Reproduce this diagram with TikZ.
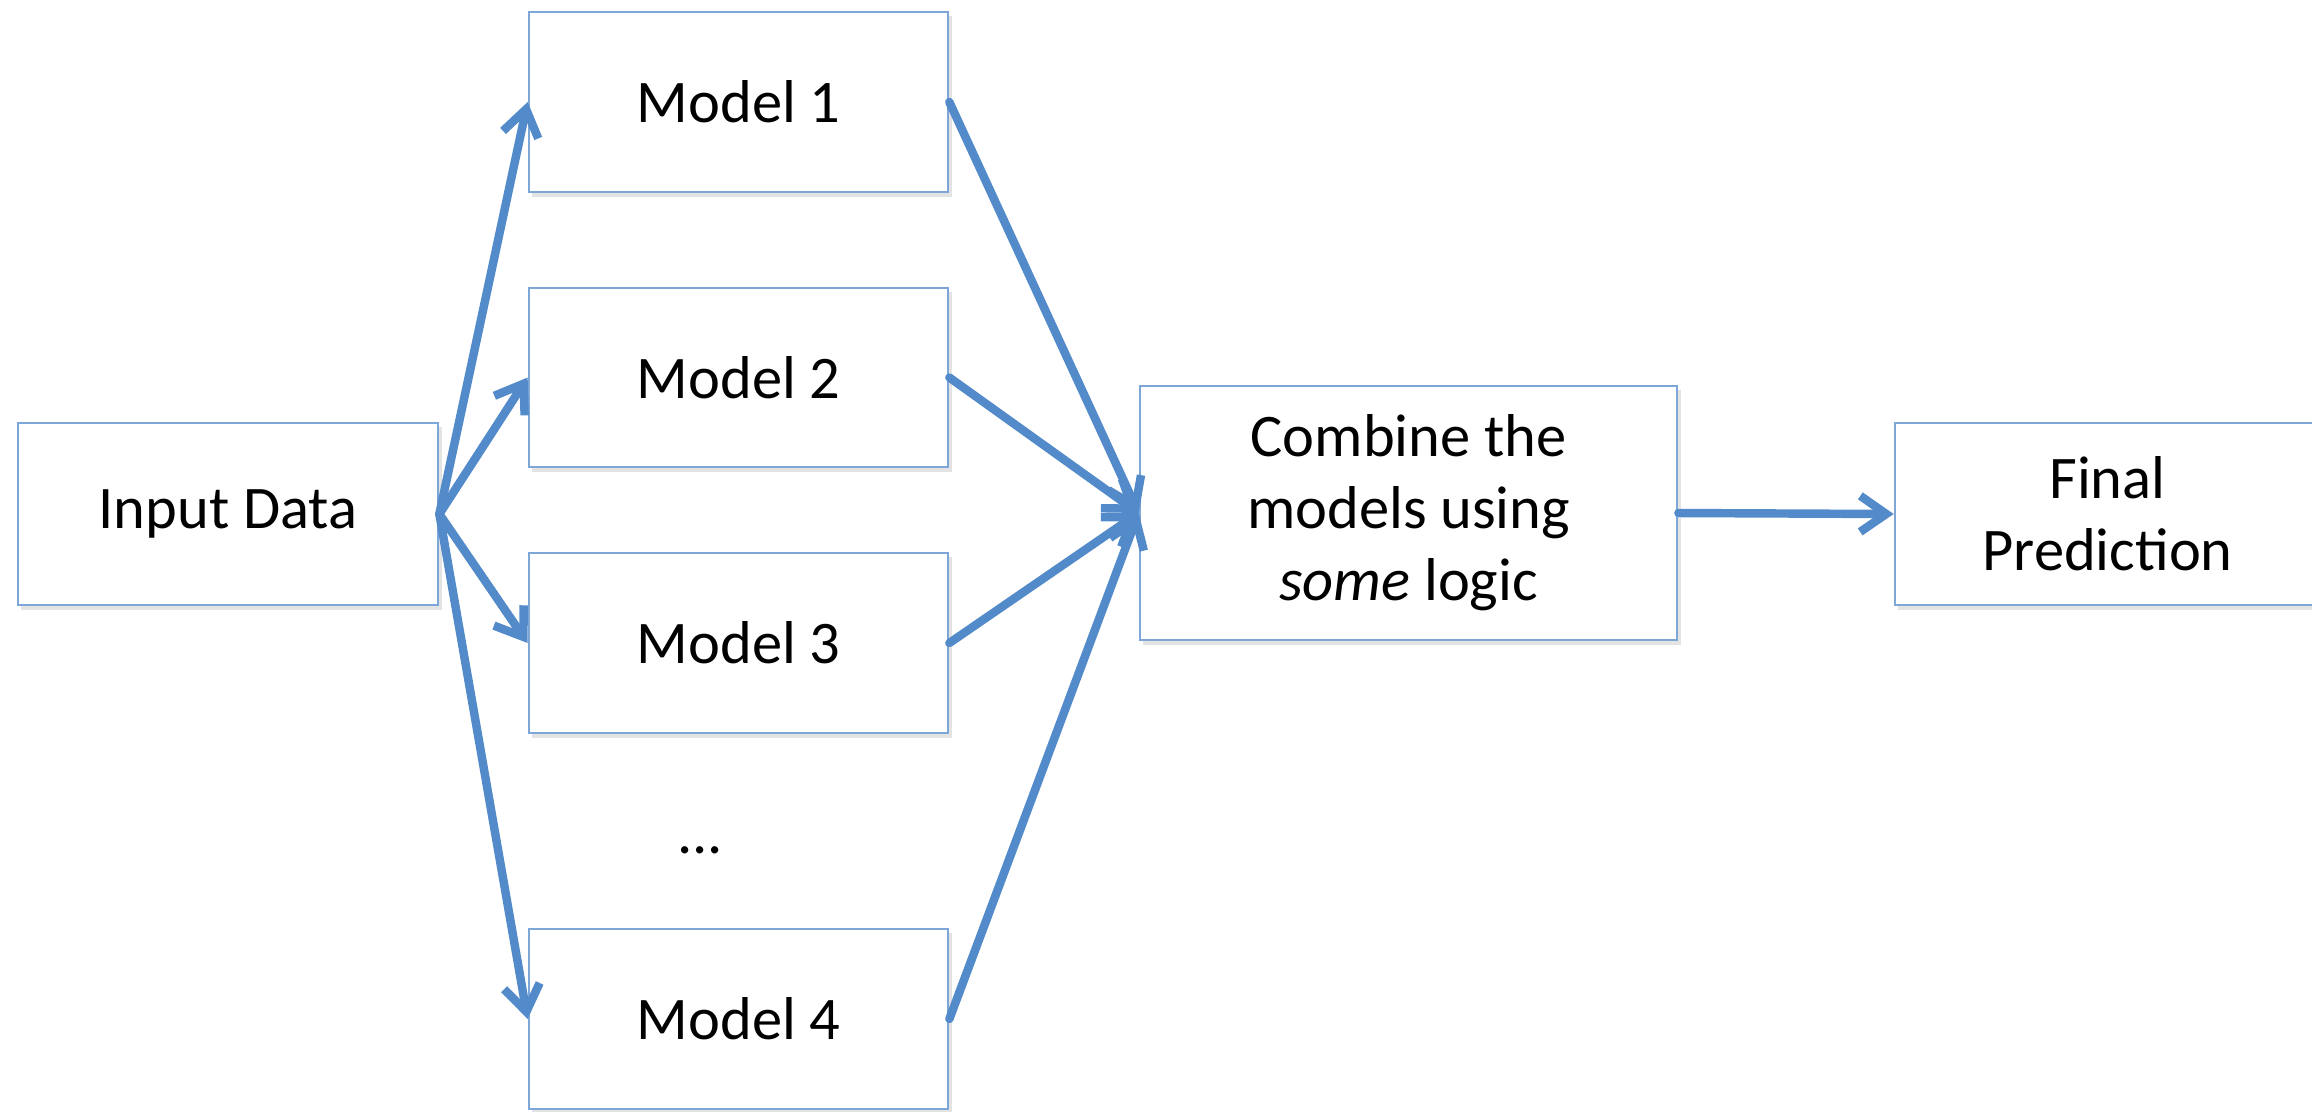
\documentclass[tikz,border=0pt]{standalone}
\usepackage{fontspec}
\setmainfont{Carlito}
\usetikzlibrary{arrows.meta,shadows}
\definecolor{boxline}{RGB}{125,167,216}
\definecolor{flow}{RGB}{83,138,201}
\begin{document}
\begin{tikzpicture}[x=0.01cm,y=-0.01cm,
  box/.style={draw=boxline, line width=0.7pt, fill=white, align=center,
    font=\fontsize{17.2}{20.5}\selectfont, inner sep=0pt,
    drop shadow={opacity=0.22, shadow xshift=0.035cm, shadow yshift=-0.045cm}},
  flowarrow/.style={draw=flow, line width=2.4pt, line cap=round,
    -{Straight Barb[length=0.26cm, width=0.36cm, line width=2.4pt]}}]
  \useasboundingbox (0,0) rectangle (2312,1111);
  \node[box, minimum width=4.2cm, minimum height=1.82cm] (inp) at (228,514) {Input Data};
  \node[box, minimum width=4.19cm, minimum height=1.80cm] (m1) at (738.5,102) {Model 1};
  \node[box, minimum width=4.19cm, minimum height=1.79cm] (m2) at (738.5,377.5) {Model 2};
  \node[box, minimum width=4.19cm, minimum height=1.80cm] (m3) at (738.5,643) {Model 3};
  \node[box, minimum width=4.19cm, minimum height=1.80cm] (m4) at (738.5,1019) {Model 4};
  \node[font=\fontsize{17.2}{20.5}\selectfont] (dots) at (700,850) {...};
  \node[box, minimum width=5.37cm, minimum height=2.54cm] (comb) at (1408.5,513)
    {Combine the\\models using\\\textit{some} logic};
  \node[box, minimum width=4.25cm, minimum height=1.82cm] (fin) at (2107.5,514)
    {Final\\Prediction};
  \foreach \m in {m1,m2,m3,m4}{
    \draw[flowarrow] (inp.east) -- (\m.west);
    \draw[flowarrow] (\m.east) -- (comb.west);
  }
  \draw[flowarrow] (comb.east) -- (fin.west);
\end{tikzpicture}
\end{document}
